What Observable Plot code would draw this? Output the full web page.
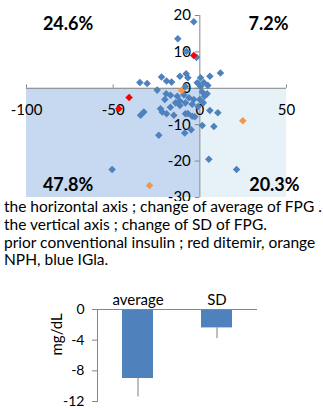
<!DOCTYPE html>
<html>
<head>
<meta charset="utf-8">
<script src="https://cdn.jsdelivr.net/npm/d3@7"></script>
<script src="https://cdn.jsdelivr.net/npm/@observablehq/plot@0.6"></script>
<style>
  html, body { margin: 0; padding: 0; background: #fff; }
  #wrap { position: relative; width: 323px; height: 408px; overflow: hidden; font-family: Lato, "Open Sans", sans-serif; }
  #scatter { position: absolute; left: 0; top: 0; width: 323px; height: 201px; overflow: hidden; }
  #caption { position: absolute; left: 4px; top: 198px; font-size: 15.5px; color: #000; white-space: nowrap; }
  #caption div { height: 17.8px; line-height: 17.8px; }
  #bars { position: absolute; left: 0; top: 279px; }
  svg { overflow: visible; }
  #scatter svg { overflow: hidden; }
</style>
</head>
<body>
<div id="wrap">
  <div id="scatter"></div>
  <div id="caption"></div>
  <div id="bars"></div>
</div>
<script>
// ---- data ----
const xTicks = [-100, -50, 0, 50];
const yTicks = [20, 10, 0, -10, -20, -30];
const quadrantLabels = ["24.6%", "7.2%", "47.8%", "20.3%"];
const quadrantX = [-76, 39.6, -76, 43];
const quadrantY = [17.6, 17.6, -26.7, -26.7];
const shadeX1 = [-100, 0];
const shadeX2 = [0, 50];
const shadeFill = ["#c6d9f0", "#e6f1f8"];

const bluePts = [
  [-3.5, 18.3], [-12.7, 13.6], [-7.7, 10.1], [-1.9, 8.5], [11.9, 4.2], [-7.9, 4.0],
  [-22.1, 3.1], [-11.5, 3.3], [-6.9, 2.9], [5.8, 3.3], [0.4, 2.9], [-19.2, 2.0],
  [-16.3, 1.7], [-34.6, 1.6], [-30.4, 1.3], [-1.5, 1.5], [2.3, 1.6], [0.4, 0.5],
  [4.6, 0.8], [-8.3, 0.5], [-24.6, -0.5], [-19.4, -1.5], [1.4, -1.0], [4.2, -1.5],
  [-16.9, -1.9], [-13.0, -2.2], [-9.2, -1.8], [-6.3, -2.6], [-3.5, -3.1], [0, -3.1],
  [2.7, -2.2], [-20.2, -3.1], [-11.5, -3.5], [-11.5, -4.7], [-8.3, -4.0], [-4.4, -4.4],
  [-22.7, -5.6], [-32.3, -6.5], [-34.2, -7.4], [-21.7, -6.5], [-19.2, -7.0], [-15.0, -7.4],
  [-8.3, -7.0], [-4.4, -7.7], [5.8, -6.1], [10.4, -6.7], [1.4, -10.2], [8.1, -10.5],
  [-5.0, -11.4], [-8.7, -12.3], [-23.7, -12.9], [-50.6, -22.3], [21.2, -22.3], [5.2, -19.5],
  [2.0, -4.0], [-1.0, -5.0], [-14.0, -4.0], [-17.0, -5.2], [-6.9, -6.9], [-2.9, -7.8]
];
const redPts = [[-3.5, 9.0], [-40.8, -2.5], [-46.7, -5.6]];
const orangePts = [[-10.5, -0.6], [24.8, -8.9], [-29.0, -26.7]];

const captionLines = [
  "the horizontal axis ; change of average of FPG .",
  "the vertical axis ; change of SD of FPG.",
  "prior conventional insulin ; red ditemir, orange",
  "NPH, blue IGla."
];

const barCats = ["average", "SD"];
const barVals = [-9.0, -2.4];
const barErr = [-11.4, -3.8];
const barTicks = [0, -4, -8, -12];

// ---- scatter ----
const gray = "#868686";
const font = "Lato, 'Open Sans', sans-serif";
const shades = shadeX1.map((d, i) => ({x1: d, x2: shadeX2[i], fill: shadeFill[i]}));
const quads = quadrantLabels.map((t, i) => ({t, x: quadrantX[i], y: quadrantY[i]}));

const scatter = Plot.plot({
  width: 323, height: 201,
  marginLeft: 26, marginRight: 37, marginTop: 15, marginBottom: 4,
  x: {type: "linear", domain: [-100, 50], axis: null},
  y: {type: "linear", domain: [-30, 20], axis: null},
  style: {fontFamily: font, background: "transparent"},
  marks: [
    Plot.rect(shades, {x1: "x1", x2: "x2", y1: -30, y2: 0, fill: "fill"}),
    Plot.ruleY([0], {x1: -100, x2: 50, stroke: gray, strokeWidth: 1}),
    Plot.ruleX([0], {y1: -30, y2: 20, stroke: gray, strokeWidth: 1}),
    Plot.ruleX(xTicks, {x: d => d, y1: 0, y2: 0.9, stroke: gray}),
    Plot.ruleY(yTicks, {y: d => d, x1: -2.6, x2: 0, stroke: gray}),
    Plot.text(xTicks, {x: d => d, y: 0, dy: 22, text: d => String(d), fontSize: 15, fill: "#000"}),
    Plot.text(yTicks, {x: 0, y: d => d, dx: -9, text: d => String(d), textAnchor: "end", fontSize: 15, fill: "#000"}),
    Plot.text(quads, {x: "x", y: "y", text: "t", fontSize: 18, fontWeight: "bold", fill: "#000"}),
    Plot.dot(bluePts, {x: d => d[0], y: d => d[1], symbol: "diamond2", r: 3.4, fill: "#4f81bd", stroke: "none"}),
    Plot.dot(redPts, {x: d => d[0], y: d => d[1], symbol: "diamond2", r: 3.4, fill: "#ff0000", stroke: "none"}),
    Plot.dot(orangePts, {x: d => d[0], y: d => d[1], symbol: "diamond2", r: 3.4, fill: "#f79646", stroke: "none"})
  ]
});
document.getElementById("scatter").appendChild(scatter);

document.getElementById("caption").innerHTML = captionLines.map(l => `<div>${l}</div>`).join("");

// ---- bar chart ----
const barData = barCats.map((c, i) => ({c, v: barVals[i], e: barErr[i]}));
const bars = Plot.plot({
  width: 323, height: 128,
  marginLeft: 97, marginRight: 66, marginTop: 30, marginBottom: 6,
  x: {domain: barCats, paddingInner: 0.61, paddingOuter: 0.31},
  y: {domain: [-12, 0]},
  style: {fontFamily: font, background: "transparent", color: "#000"},
  marks: [
    Plot.axisX({anchor: "top", tickSize: 0, tickPadding: 5, fontSize: 15, label: null}),
    Plot.axisY({ticks: barTicks, tickFormat: d => String(d), tickSize: 5, tickPadding: 8, fontSize: 14,
      stroke: gray, label: null}),
    Plot.text(["mg/dL"], {frameAnchor: "left", rotate: -90, dx: -40, fontSize: 15, fill: "#000"}),
    Plot.ruleX(barData, {x: "c", y1: "v", y2: "e", stroke: "#7f7f7f", strokeWidth: 1}),
    Plot.barY(barData, {x: "c", y: "v", fill: "#4f81bd"}),
    Plot.ruleY([0], {stroke: gray}),
    Plot.frame({anchor: "left", stroke: gray})
  ]
});
document.getElementById("bars").appendChild(bars);
</script>
</body>
</html>
